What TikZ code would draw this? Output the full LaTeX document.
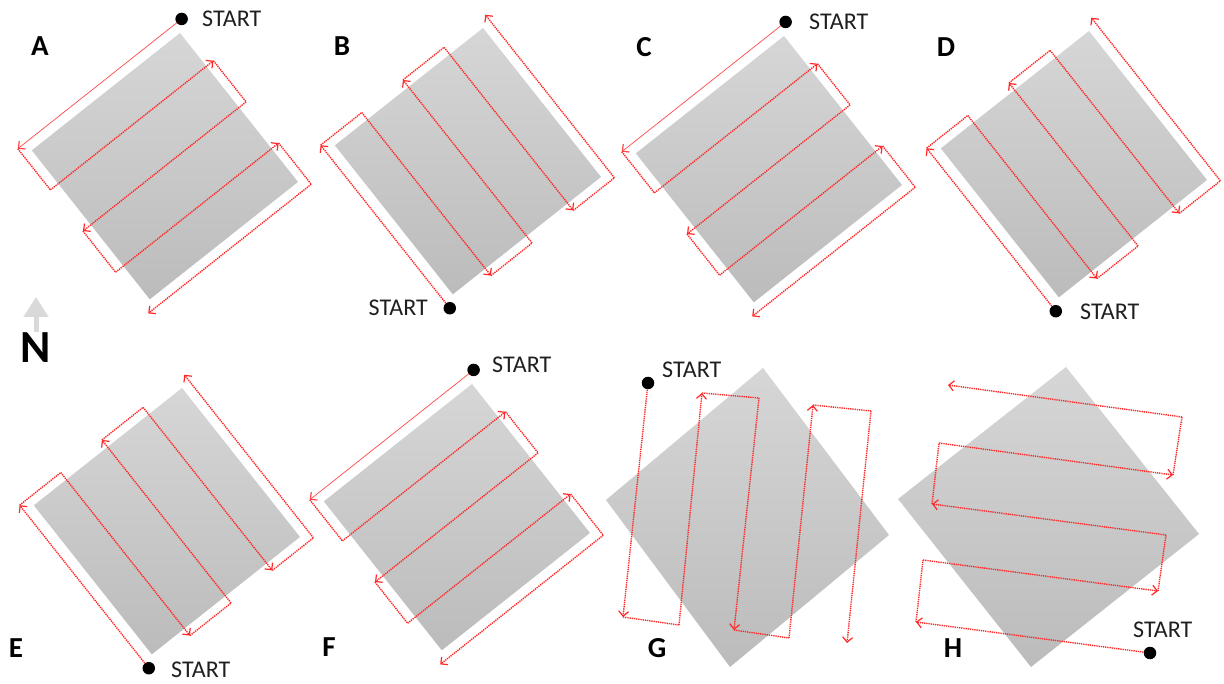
\documentclass[tikz,border=0pt]{standalone}
\usepackage{fontspec}
\setmainfont{Carlito}
\usetikzlibrary{arrows.meta}
\definecolor{routered}{RGB}{255,40,40}
\tikzset{
  fieldshade/.style={top color=gray!32, bottom color=gray!53, draw=none},
  routeline/.style={draw=routered, dash pattern=on 1.3pt off 0.9pt, line width=1.4pt},
  routethin/.style={draw=routered!85, line width=0.7pt},
  arrowend/.style={-{Straight Barb[length=5pt,width=10pt,line width=1.2pt]}},
  startdot/.style={circle, fill=black, inner sep=0pt, minimum size=12.5pt},
  lbl/.style={font=\fontsize{24}{26}\selectfont, inner sep=0pt, text=black!88},
  panelletter/.style={font=\bfseries\fontsize{29}{31}\selectfont, inner sep=0pt},
}
\newcommand\drawroute[2]{%
  \draw[#2, arrowend] (#10) -- (#11);
  \draw[routeline] (#11) -- (#12);
  \draw[routeline, arrowend] (#12) -- (#13);
  \draw[routeline] (#13) -- (#14);
  \draw[routeline, arrowend] (#14) -- (#15);
  \draw[routeline] (#15) -- (#16);
  \draw[routeline, arrowend] (#16) -- (#17);
  \draw[routeline] (#17) -- (#18);
  \draw[routeline, arrowend] (#18) -- (#19);
  \node[startdot] (#1s) at (#10) {};
}
\newcommand\zigAC[1]{%
  \coordinate (#10) at (-10,-10);
  \coordinate (#11) at (-10,199);
  \coordinate (#12) at (42.5,199);
  \coordinate (#13) at (42.5,-9);
  \coordinate (#14) at (95,-9);
  \coordinate (#15) at (95,199);
  \coordinate (#16) at (147.5,199);
  \coordinate (#17) at (147.5,-9);
  \coordinate (#18) at (200,-9);
  \coordinate (#19) at (200,199);
  \shade[fieldshade] (0,0) -- (190,0) -- (190,189) -- (0,189) -- cycle;
  \drawroute{#1}{routethin}
}
\newcommand\zigBD[1]{%
  \coordinate (#10) at (199,200);
  \coordinate (#11) at (-9,200);
  \coordinate (#12) at (-9,147.5);
  \coordinate (#13) at (199,147.5);
  \coordinate (#14) at (199,95);
  \coordinate (#15) at (-9,95);
  \coordinate (#16) at (-9,42.5);
  \coordinate (#17) at (199,42.5);
  \coordinate (#18) at (199,-10);
  \coordinate (#19) at (-9,-10);
  \shade[fieldshade] (0,0) -- (190,0) -- (190,189) -- (0,189) -- cycle;
  \drawroute{#1}{routeline}
}
\begin{document}
\begin{tikzpicture}[x=1pt,y=-1pt]
\useasboundingbox (0,0) rectangle (1224,684);
\fill[white] (0,0) rectangle (1224,684);

% panels A, C, F
\begin{scope}[shift={(180,33)}, x={(0.621pt,-0.784pt)}, y={(-0.784pt,-0.621pt)}]
  \zigAC{A}
\end{scope}
\begin{scope}[shift={(784,36)}, x={(0.621pt,-0.784pt)}, y={(-0.784pt,-0.621pt)}]
  \zigAC{C}
\end{scope}
\begin{scope}[shift={(472,384)}, x={(0.621pt,-0.784pt)}, y={(-0.784pt,-0.621pt)}]
  \zigAC{F}
\end{scope}
% panels B, D, E
\begin{scope}[shift={(483,28)}, x={(0.621pt,-0.784pt)}, y={(-0.784pt,-0.621pt)}]
  \zigBD{B}
\end{scope}
\begin{scope}[shift={(1089,31)}, x={(0.621pt,-0.784pt)}, y={(-0.784pt,-0.621pt)}]
  \zigBD{D}
\end{scope}
\begin{scope}[shift={(182,388)}, x={(0.621pt,-0.784pt)}, y={(-0.784pt,-0.621pt)}]
  \zigBD{E}
\end{scope}

% panel G
\shade[fieldshade] (763,368) -- (889,535) -- (730,667) -- (606,500) -- cycle;
\coordinate (G0) at (648,383);
\coordinate (G1) at (623,617);
\coordinate (G2) at (679,625);
\coordinate (G3) at (702,393);
\coordinate (G4) at (759,398);
\coordinate (G5) at (734,630);
\coordinate (G6) at (789,638);
\coordinate (G7) at (813,405);
\coordinate (G8) at (871,411);
\coordinate (G9) at (847,643);
\drawroute{G}{routeline}

% panel H
\shade[fieldshade] (1066,367) -- (1199,534) -- (1031,667) -- (898,499) -- cycle;
\coordinate (H0) at (1150,653);
\coordinate (H1) at (916,622);
\coordinate (H2) at (923,560);
\coordinate (H3) at (1158,591);
\coordinate (H4) at (1166,535);
\coordinate (H5) at (932,504);
\coordinate (H6) at (939,443);
\coordinate (H7) at (1173,475);
\coordinate (H8) at (1182,417);
\coordinate (H9) at (948,385);
\drawroute{H}{routeline}

% START labels
\node[lbl, anchor=west] (Alab) at (202,19) {START};
\node[lbl, anchor=east] (Blab) at (428,308) {START};
\node[lbl, anchor=west] (Clab) at (809,22) {START};
\node[lbl, anchor=west] (Dlab) at (1080,312) {START};
\node[lbl, anchor=west] (Elab) at (171,670) {START};
\node[lbl, anchor=west] (Flab) at (492,365) {START};
\node[lbl, anchor=west] (Glab) at (662,370) {START};
\node[lbl, anchor=west] (Hlab) at (1133,630) {START};

% panel letters
\node[panelletter] (LA) at (40,46) {A};
\node[panelletter] (LB) at (342,46) {B};
\node[panelletter] (LC) at (644,47) {C};
\node[panelletter] (LD) at (946,47) {D};
\node[panelletter] (LE) at (16,648) {E};
\node[panelletter] (LF) at (329,647) {F};
\node[panelletter] (LG) at (657,648) {G};
\node[panelletter] (LH) at (953,648) {H};

% north arrow
\node[font=\bfseries\fontsize{46}{48}\selectfont, inner sep=0pt] (north) at (36,348) {N};
\coordinate (nbase) at (36,332);
\coordinate (ntip) at (36,297);
\draw[gray!30, line width=5pt, -{Triangle[length=20pt,width=24pt]}] (nbase) -- (ntip);
\end{tikzpicture}
\end{document}
